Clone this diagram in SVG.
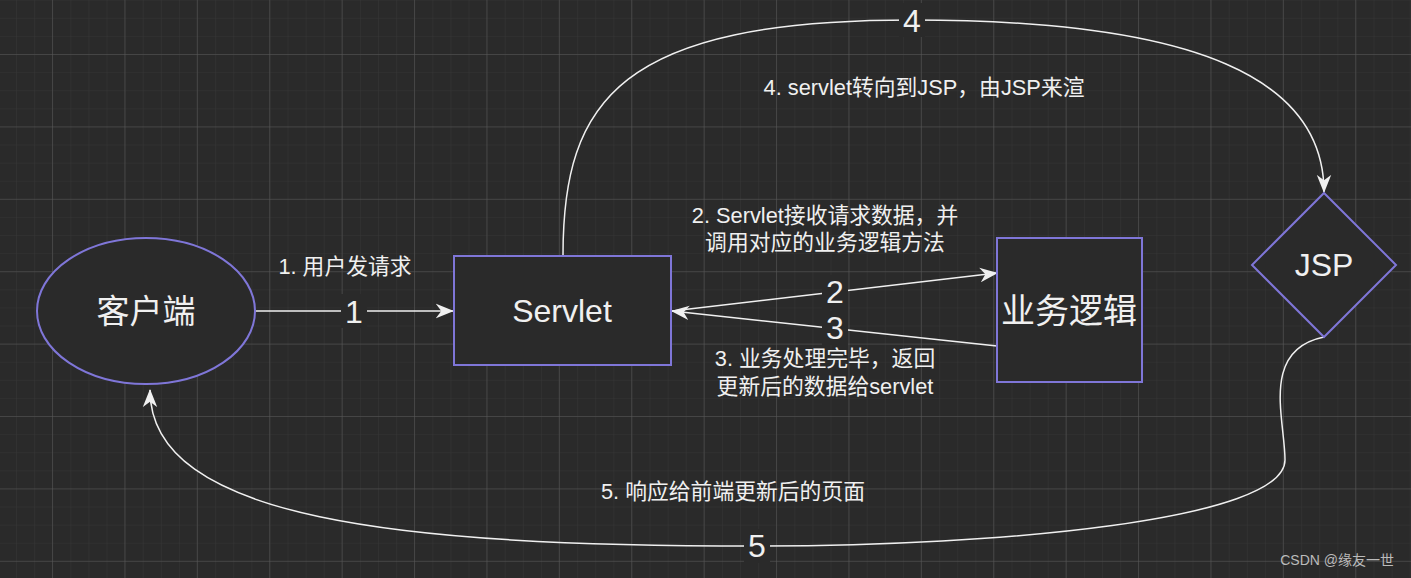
<svg xmlns="http://www.w3.org/2000/svg" width="1411" height="578" viewBox="0 0 1411 578">
<style>
.n{fill:#2a2a2a;stroke:#7f76d8;stroke-width:2}
.c{fill:none;stroke:#f0f0f0;stroke-width:1.5}
.t{font-family:"Liberation Sans","Noto Sans CJK SC",sans-serif;fill:#f0f0f0}
.lb{font-size:21.8px}
.num{font-size:32px}
</style>
<defs>
<pattern id="minor" width="18.1" height="18.1" patternUnits="userSpaceOnUse" x="-1.1" y="0.7"><path d="M18.1 0V18.1M0 18.1H18.1" fill="none" stroke="#363636" stroke-width="1"/></pattern>
<pattern id="major" width="72.4" height="72.4" patternUnits="userSpaceOnUse" x="-19.4" y="-17.4"><path d="M72.4 0V72.4M0 72.4H72.4" fill="none" stroke="#5a5a5a" stroke-width="1"/></pattern>
<marker id="b" viewBox="0 0 20 20" refX="19" refY="10" markerWidth="18" markerHeight="18" orient="auto" markerUnits="userSpaceOnUse"><path d="M0 2L20 10L0 18L6 10Z" fill="#f0f0f0"/></marker>
</defs>
<rect width="1411" height="578" fill="#2a2a2a"/>
<rect width="1411" height="578" fill="url(#minor)"/>
<rect width="1411" height="578" fill="url(#major)"/>
<g id="connectors">
<path class="c" d="M256 311H453" marker-end="url(#b)"/>
<path class="c" d="M672 311L997 273" marker-end="url(#b)"/>
<path class="c" d="M997 346L672 311" marker-end="url(#b)"/>
<path class="c" d="M563 255C563 100 620 20 912 20C1200 20 1324 80 1324 192" marker-end="url(#b)"/>
<path class="c" d="M1324 337C1260 350 1285 420 1285 460C1285 520 1000 546 757 546C400 546 150 520 150 390" marker-end="url(#b)"/>
<rect x="341" y="294" width="26" height="34" fill="#2a2a2a"/>
<text class="t num" x="354" y="323" text-anchor="middle">1</text>
<rect x="822" y="275" width="26" height="34" fill="#2a2a2a"/>
<text class="t num" x="835" y="303" text-anchor="middle">2</text>
<rect x="822" y="311" width="26" height="34" fill="#2a2a2a"/>
<text class="t num" x="835" y="339" text-anchor="middle">3</text>
<rect x="899" y="3" width="26" height="34" fill="#2a2a2a"/>
<text class="t num" x="912" y="32" text-anchor="middle">4</text>
<rect x="744" y="529" width="26" height="34" fill="#2a2a2a"/>
<text class="t num" x="757" y="557" text-anchor="middle">5</text>
<text class="t lb" x="345" y="274" text-anchor="middle">1. 用户发请求</text>
<text class="t lb" x="825" y="223" text-anchor="middle">2. Servlet接收请求数据，并</text>
<text class="t lb" x="825" y="250" text-anchor="middle">调用对应的业务逻辑方法</text>
<text class="t lb" x="825" y="366" text-anchor="middle">3. 业务处理完毕，返回</text>
<text class="t lb" x="825" y="394" text-anchor="middle">更新后的数据给servlet</text>
<text class="t lb" x="924" y="95" text-anchor="middle">4. servlet转向到JSP，由JSP来渲</text>
<text class="t lb" x="733" y="499" text-anchor="middle">5. 响应给前端更新后的页面</text>
</g>
<g id="client"><ellipse class="n" cx="146" cy="311" rx="109" ry="73"/><text class="t" x="146" y="323" font-size="33" text-anchor="middle">客户端</text></g>
<g id="servlet"><rect class="n" x="454" y="256" width="217" height="109"/><text class="t" x="562" y="322" font-size="32" text-anchor="middle">Servlet</text></g>
<g id="logic"><rect class="n" x="997" y="238" width="145" height="144"/><text class="t" x="1069" y="323" font-size="34" text-anchor="middle">业务逻辑</text></g>
<g id="jsp"><path class="n" d="M1324 193L1396 265L1324 337L1252 265Z"/><text class="t" x="1324" y="276" font-size="32" text-anchor="middle">JSP</text></g>
<text class="t" x="1394" y="565" font-size="14" text-anchor="end" style="fill:#bbbbbb">CSDN @缘友一世</text>
</svg>
